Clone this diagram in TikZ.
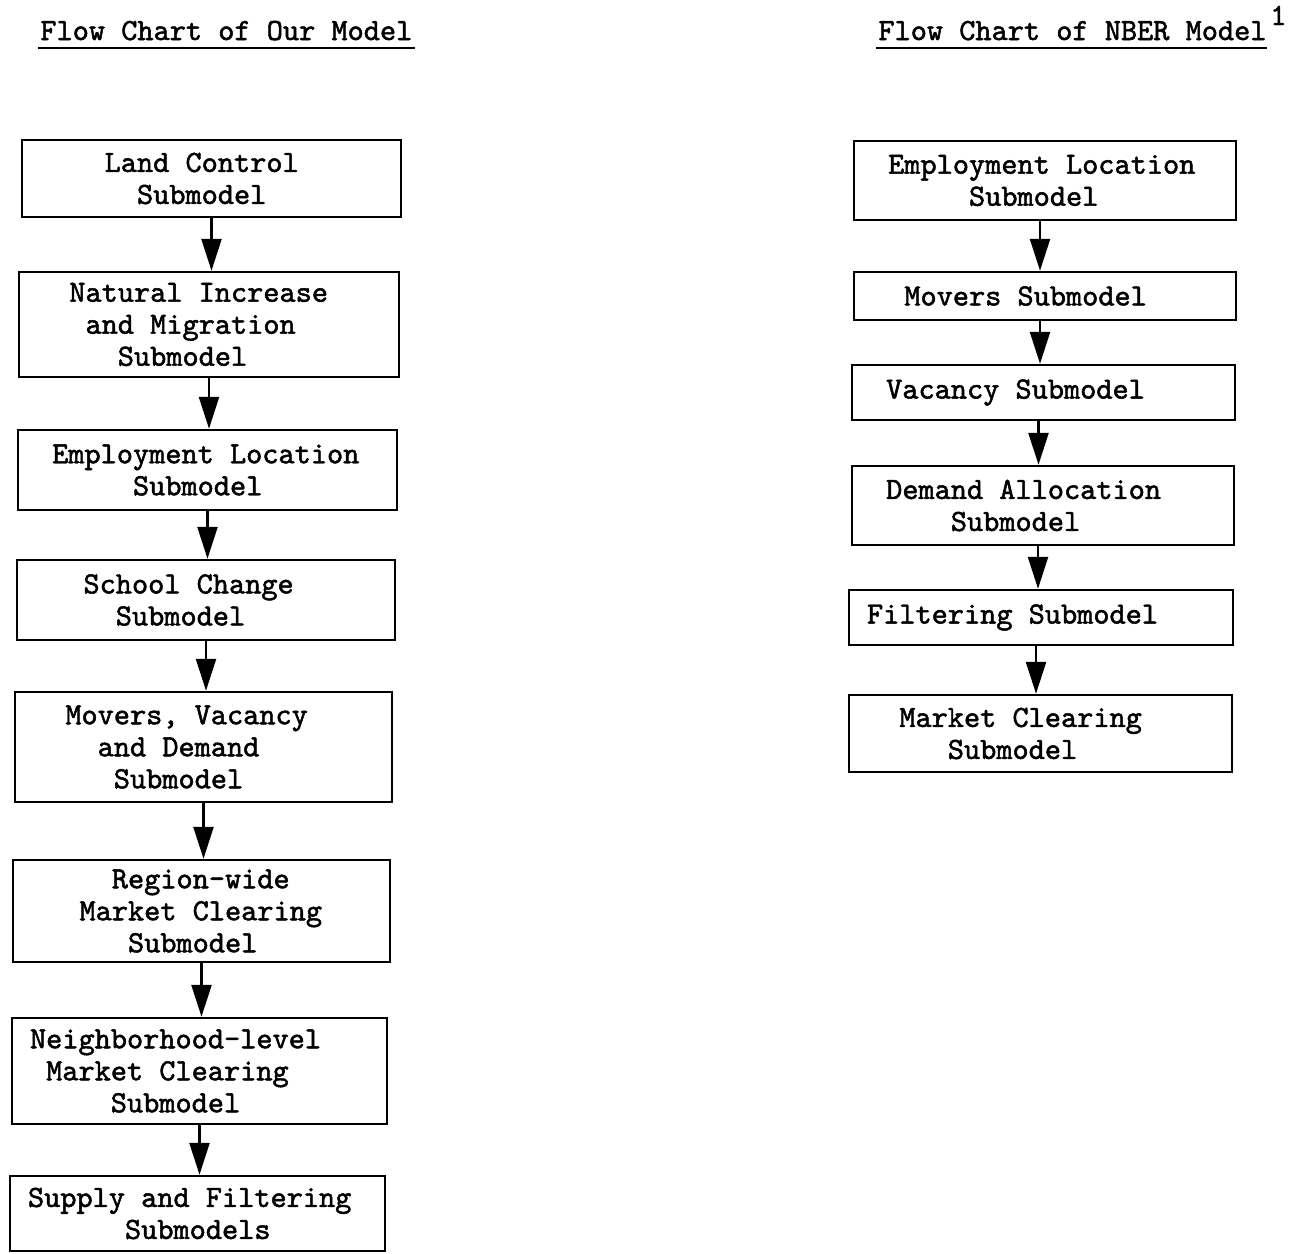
\documentclass[tikz,border=0pt]{standalone}
\usepackage{fontspec}
\usetikzlibrary{arrows.meta}
\setlength\parindent{0pt}
% typewriter face used for every label (Latin Modern Mono, slightly emboldened)
\newfontfamily\typewriter{lmmono10-regular}[Extension=.otf, FakeBold=1.6]
\newcommand\typefont{\fontsize{15.4}{16}\selectfont\typewriter}
% fixed, column-wide word spaces
\newcommand\typespaces{\spaceskip=\fontcharwd\font`\M\relax\xspaceskip=\spaceskip}
% indent by a number of typewriter columns
\newcommand\typecol[1]{\hspace*{#1\fontcharwd\font`\M}}
\begin{document}
\begin{tikzpicture}[x=0.5pt,y=-0.5pt,
  stage/.style={draw, line width=1.25pt, rectangle, inner xsep=9pt, inner ysep=0pt,
                align=left, font=\typefont, execute at begin node=\typespaces},
  flow/.style={line width=1.25pt, -{Triangle[width=10pt,length=16pt]}},
  title/.style={inner sep=0pt, font=\typefont, execute at begin node=\typespaces},
  rule/.style={line width=1pt}]
\useasboundingbox[fill=white] (0,0) rectangle (1294,1253);

% ---- headings ----
\node[title, anchor=base west] (T1) at (40,40) {Flow Chart of Our Model};
\node[title, anchor=base west] (T2) at (878,40) {Flow Chart of NBER Model};
\node[title, anchor=base west] (fn) at ([xshift=1.5pt,yshift=7.5pt]T2.base east) {1};
\draw[rule] ([xshift=-1pt,yshift=-3.75pt]T1.base west) -- ([xshift=1pt,yshift=-3.75pt]T1.base east);
\draw[rule] ([xshift=-1pt,yshift=-3.75pt]T2.base west) -- ([xshift=0pt,yshift=-3.75pt]T2.base east);

% ---- our model ----
\node[stage, text width=171.5pt, minimum height=38.5pt] (L1) at (211.5,178.5)
  {\typecol{4}Land Control\\\typecol{6}Submodel};
\node[stage, text width=172pt, minimum height=52.5pt] (L2) at (209,324.5)
  {\typecol{2}Natural Increase\\\typecol{3}and Migration\\\typecol{5}Submodel};
\node[stage, text width=171.5pt, minimum height=40pt] (L3) at (207.5,470)
  {\typecol{1}Employment Location\\\typecol{6}Submodel};
\node[stage, text width=171pt, minimum height=40pt] (L4) at (206,600)
  {\typecol{3}School Change\\\typecol{5}Submodel};
\node[stage, text width=170.5pt, minimum height=55pt] (L5) at (203.5,747)
  {\typecol{2}Movers, Vacancy\\\typecol{4}and Demand\\\typecol{5}Submodel};
\node[stage, text width=170.5pt, minimum height=51pt] (L6) at (201.5,911)
  {\typecol{5}Region-wide\\\typecol{3}Market Clearing\\\typecol{6}Submodel};
\node[stage, text width=169.5pt, minimum height=53pt] (L7) at (199.5,1071)
  {Neighborhood-level\\\typecol{1}Market Clearing\\\typecol{5}Submodel};
\node[stage, text width=169.5pt, minimum height=37.5pt] (L8) at (197.5,1213.5)
  {Supply and Filtering\\\typecol{6}Submodels};

\foreach \a/\b in {L1/L2,L2/L3,L3/L4,L4/L5,L5/L6,L6/L7,L7/L8}
  \draw[flow] (\a.south) -- (\a.south |- \b.north);

% ---- NBER model ----
\node[stage, text width=173pt, minimum height=39.5pt] (R1) at (1045,180.5)
  {\typecol{1}Employment Location\\\typecol{6}Submodel};
\node[stage, text width=173pt, minimum height=24pt] (R2) at (1045,296)
  {\typecol{2}Movers Submodel};
\node[stage, text width=173.5pt, minimum height=27.5pt] (R3) at (1043.5,392.5)
  {\typecol{1}Vacancy Submodel};
\node[stage, text width=173pt, minimum height=39.5pt] (R4) at (1043,505.5)
  {\typecol{1}Demand Allocation\\\typecol{5}Submodel};
\node[stage, text width=174pt, minimum height=27.5pt] (R5) at (1041,617.5)
  {Filtering Submodel};
\node[stage, text width=173.5pt, minimum height=38.5pt] (R6) at (1040.5,733.5)
  {\typecol{2}Market Clearing\\\typecol{5}Submodel};

\foreach \a/\b in {R1/R2,R2/R3,R3/R4,R4/R5,R5/R6}
  \draw[flow] ([xshift=-2.5pt]\a.south) -- ([xshift=-2.5pt]\a.south |- \b.north);
\end{tikzpicture}
\end{document}
